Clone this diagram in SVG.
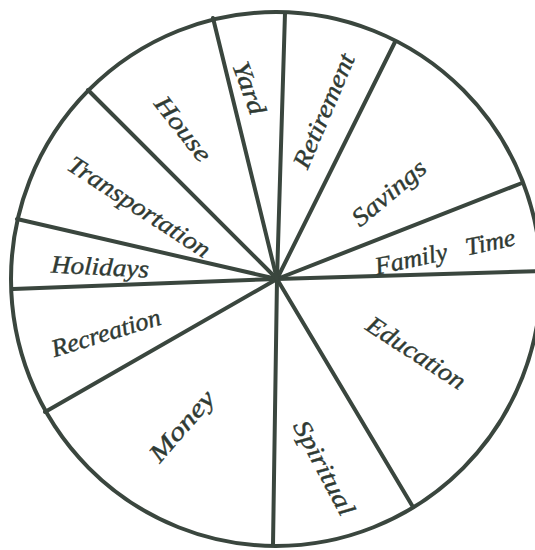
<svg xmlns="http://www.w3.org/2000/svg" width="535" height="550" viewBox="0 0 535 550">
  <style>
    .rim { fill: #ffffff; stroke: #3a463e; stroke-width: 4; }
    .spoke { stroke: #3a463e; stroke-width: 4; stroke-linecap: round; fill: none; }
    .lbl { font-family: "Liberation Serif", "Times New Roman", serif; font-style: italic; font-size: 25px; fill: #2f3a33; stroke: #2f3a33; stroke-width: 0.4; text-anchor: middle; }
  </style>
  <rect x="0" y="0" width="535" height="550" fill="#ffffff"/>
  <ellipse class="rim" cx="276" cy="279" rx="265" ry="267"/>
  <g id="connectors">
    <line class="spoke" x1="277" y1="279" x2="285" y2="13"/>
    <line class="spoke" x1="277" y1="279" x2="395" y2="42"/>
    <line class="spoke" x1="277" y1="279" x2="522" y2="183"/>
    <line class="spoke" x1="277" y1="279" x2="541" y2="271"/>
    <line class="spoke" x1="277" y1="279" x2="413" y2="507"/>
    <line class="spoke" x1="277" y1="279" x2="273" y2="545"/>
    <line class="spoke" x1="277" y1="279" x2="45" y2="412"/>
    <line class="spoke" x1="277" y1="279" x2="13" y2="289"/>
    <line class="spoke" x1="277" y1="279" x2="17" y2="219"/>
    <line class="spoke" x1="277" y1="279" x2="88" y2="90"/>
    <line class="spoke" x1="277" y1="279" x2="213" y2="18"/>
  </g>
  <g id="yard"><text class="lbl" transform="translate(249,88) rotate(70)" y="8" textLength="55" lengthAdjust="spacingAndGlyphs">Yard</text></g>
  <g id="house"><text class="lbl" transform="translate(183,129) rotate(52)" y="8" textLength="76" lengthAdjust="spacingAndGlyphs">House</text></g>
  <g id="retirement"><text class="lbl" transform="translate(324,111) rotate(-67)" y="8" textLength="122" lengthAdjust="spacingAndGlyphs">Retirement</text></g>
  <g id="savings"><text class="lbl" transform="translate(389,193) rotate(-40)" y="8" textLength="89" lengthAdjust="spacingAndGlyphs">Savings</text></g>
  <g id="family-time"><text class="lbl" transform="translate(445,252) rotate(-12)" y="8" textLength="143" lengthAdjust="spacingAndGlyphs" word-spacing="12">Family Time</text></g>
  <g id="transportation"><text class="lbl" transform="translate(139,207) rotate(33)" y="8" textLength="165" lengthAdjust="spacingAndGlyphs">Transportation</text></g>
  <g id="holidays"><text class="lbl" transform="translate(100,267) rotate(3)" y="8" textLength="98" lengthAdjust="spacingAndGlyphs">Holidays</text></g>
  <g id="recreation"><text class="lbl" transform="translate(106,333) rotate(-17)" y="8" textLength="113" lengthAdjust="spacingAndGlyphs">Recreation</text></g>
  <g id="money"><text class="lbl" transform="translate(182,426) rotate(-49)" y="8" textLength="86" lengthAdjust="spacingAndGlyphs">Money</text></g>
  <g id="spiritual"><text class="lbl" transform="translate(324,468) rotate(62)" y="8" textLength="104" lengthAdjust="spacingAndGlyphs">Spiritual</text></g>
  <g id="education"><text class="lbl" transform="translate(416,353) rotate(33)" y="8" textLength="113" lengthAdjust="spacingAndGlyphs">Education</text></g>
</svg>
